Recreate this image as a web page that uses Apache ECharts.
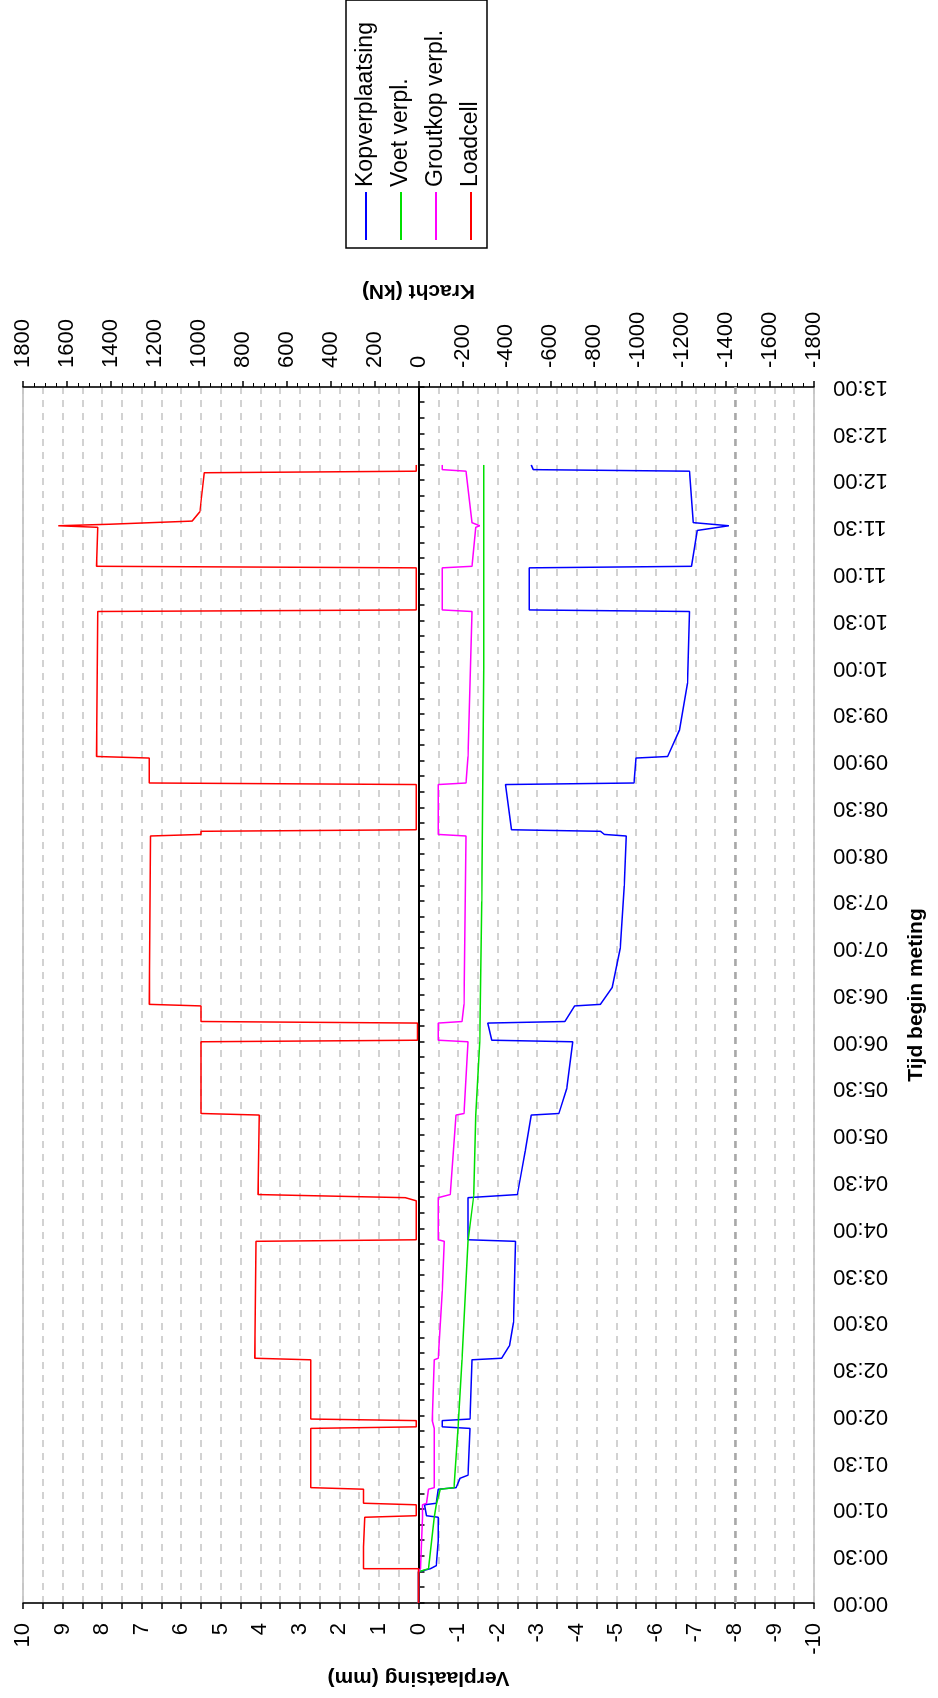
<!DOCTYPE html>
<html><head><meta charset="utf-8">
<script src="https://cdn.jsdelivr.net/npm/echarts@6/dist/echarts.min.js"></script>
<style>
html,body{margin:0;padding:0;background:#fff;overflow:hidden;width:938px;height:1698px}
#chart{position:absolute;left:0;top:0;width:1698px;height:938px;transform-origin:0 0;transform:translateY(1698px) rotate(-90deg);}
</style></head><body><div id="chart"></div>
<script>
// time in minutes since start of measurement
const seriesNames = ['Kopverplaatsing', 'Voet verpl.', 'Groutkop verpl.', 'Loadcell'];
const timeTicks = {min: 0, max: 780, step: 30};

const kopT = [0,20,22,24,40,55,56,63,64,73,74,80,82,112,113,117,118,156,157,165,180,232,233,260,262,290,313,314,330,360,361,372,373,383,384,395,420,460,492,493,495,496,525,526,542,543,560,590,636,637,664,665,688,691,693,726,727,730];
const kopV = [0,0,-0.3,-0.45,-0.5,-0.5,-0.2,-0.15,-0.45,-0.5,-0.95,-1.05,-1.25,-1.3,-0.6,-0.6,-1.3,-1.35,-2.1,-2.3,-2.4,-2.45,-1.25,-1.25,-2.5,-2.7,-2.85,-3.55,-3.75,-3.9,-1.85,-1.75,-3.7,-3.95,-4.6,-4.9,-5.1,-5.2,-5.25,-4.7,-4.6,-2.35,-2.2,-5.45,-5.5,-6.3,-6.6,-6.8,-6.85,-2.8,-2.8,-6.9,-7.05,-7.85,-6.95,-6.85,-2.9,-2.85];

const voetT = [0,20,22,55,63,73,74,112,156,232,262,313,360,450,600,730];
const voetV = [0,0,-0.25,-0.4,-0.45,-0.55,-0.9,-1.0,-1.1,-1.25,-1.4,-1.45,-1.55,-1.6,-1.65,-1.65];

const groutT = [0,20,22,55,63,64,73,74,112,113,117,118,156,157,200,232,233,260,262,313,314,360,361,372,373,384,492,493,525,526,543,636,637,664,665,690,691,693,726,727,730];
const groutV = [0,0,-0.05,-0.1,-0.1,-0.2,-0.25,-0.4,-0.4,-0.35,-0.35,-0.4,-0.4,-0.5,-0.6,-0.65,-0.5,-0.5,-0.8,-0.95,-1.15,-1.25,-0.5,-0.5,-1.1,-1.15,-1.2,-0.5,-0.5,-1.2,-1.25,-1.35,-0.6,-0.6,-1.35,-1.45,-1.55,-1.35,-1.2,-0.6,-0.6];

const loadT = [0,22,22,36,37,55,56,63,64,73,74,112,113,117,118,156,157,232,233,258,260,262,313,314,360,361,372,373,383,384,492,493,495,496,525,526,542,543,636,637,664,665,690,691,692,694,700,725,726,730];
const loadV = [0,0,250,250,245,245,10,10,250,250,490,490,10,10,490,490,745,740,10,10,60,730,725,990,990,5,5,990,990,1225,1220,990,990,10,10,1225,1225,1465,1460,10,10,1465,1460,1640,1400,1030,995,975,10,10];

function zip(t, v){ return t.map((x,i)=>[x, v[i]]); }
function hhmm(m){ const h=Math.floor(m/60), mm=m%60; return String(h).padStart(2,'0')+':'+String(mm).padStart(2,'0'); }

const FONT = 'Liberation Sans, Arial, sans-serif';
const dash = {color:'#c4c4c4', width:1.5, type:[7,6]};
const chart = echarts.init(document.getElementById('chart'));
chart.setOption({
  animation:false,
  backgroundColor:'#fff',
  textStyle:{fontFamily:FONT},
  grid:{left:95, right:387, top:23, bottom:124, show:true, borderColor:'#999', borderWidth:1},
  legend:{
    data:seriesNames, orient:'vertical', left:1450, top:346,
    icon:'rect', itemWidth:48, itemHeight:2, itemGap:11,
    padding:[8,22,4,8], borderColor:'#000', borderWidth:1.5,
    textStyle:{fontSize:23, color:'#000', lineHeight:24, fontFamily:FONT}
  },
  xAxis:[
    {type:'value', min:timeTicks.min, max:timeTicks.max, interval:timeTicks.step, position:'bottom',
     axisLine:{show:false, onZero:false}, axisTick:{show:false}, splitLine:{show:false},
     axisLabel:{rotate:90, margin:19, fontSize:22, color:'#000', fontFamily:FONT, formatter:hhmm},
     name:'Tijd begin meting', nameLocation:'middle', nameGap:92,
     nameTextStyle:{fontSize:21, fontWeight:'bold', color:'#000', fontFamily:FONT}},
    {type:'value', min:timeTicks.min, max:timeTicks.max, interval:timeTicks.step, position:'bottom',
     axisLine:{show:true, onZero:true, onZeroAxisIndex:0, lineStyle:{color:'#000', width:2}},
     axisTick:{show:true, length:6, lineStyle:{color:'#000', width:1.5}},
     minorTick:{show:true, splitNumber:3, length:6, lineStyle:{color:'#000', width:1.5}},
     axisLabel:{show:false}, splitLine:{show:false}}
  ],
  yAxis:[
    {type:'value', min:-10, max:10, interval:1, position:'left',
     axisLine:{show:true, onZero:false, lineStyle:{color:'#000', width:1.5}},
     axisTick:{show:true, length:6, lineStyle:{color:'#000', width:1.5}},
     minorTick:{show:true, splitNumber:2, length:6, lineStyle:{color:'#000', width:1.5}},
     splitLine:{show:true, lineStyle:dash}, minorSplitLine:{show:true, lineStyle:dash},
     axisLabel:{margin:20, fontSize:22, color:'#000', fontFamily:FONT},
     name:'Verplaatsing (mm)', nameLocation:'middle', nameRotate:90, nameGap:64,
     nameTextStyle:{fontSize:21, fontWeight:'bold', color:'#000', fontFamily:FONT}},
    {type:'value', min:-1800, max:1800, interval:200, position:'right',
     axisLine:{show:true, onZero:false, lineStyle:{color:'#000', width:1.5}},
     axisTick:{show:true, length:6, lineStyle:{color:'#000', width:1.5}},
     minorTick:{show:true, splitNumber:4, length:4, lineStyle:{color:'#000', width:1}},
     splitLine:{show:false},
     axisLabel:{margin:19, fontSize:22, color:'#000', fontFamily:FONT, formatter:function(v){return String(v);}},
     name:'Kracht (kN)', nameLocation:'middle', nameRotate:90, nameGap:84,
     nameTextStyle:{fontSize:21, fontWeight:'bold', color:'#000', fontFamily:FONT}}
  ],
  series:[
    {name:seriesNames[0], type:'line', symbol:'none', xAxisIndex:0, yAxisIndex:0, data:zip(kopT,kopV),
     color:'#0000ff', lineStyle:{width:1.5, color:'#0000ff'},
     markLine:{silent:true, symbol:['none','none'], label:{show:false}, data:[{yAxis:-8}],
       lineStyle:{color:'#a8a8a8', width:2.5, type:[7,6]}}},
    {name:seriesNames[1], type:'line', symbol:'none', xAxisIndex:0, yAxisIndex:0, data:zip(voetT,voetV),
     color:'#00e000', lineStyle:{width:1.5, color:'#00e000'}},
    {name:seriesNames[2], type:'line', symbol:'none', xAxisIndex:0, yAxisIndex:0, data:zip(groutT,groutV),
     color:'#ff00ff', lineStyle:{width:1.5, color:'#ff00ff'}},
    {name:seriesNames[3], type:'line', symbol:'none', xAxisIndex:0, yAxisIndex:1, data:zip(loadT,loadV),
     color:'#ff0000', lineStyle:{width:1.5, color:'#ff0000'}}
  ]
});
</script></body></html>
